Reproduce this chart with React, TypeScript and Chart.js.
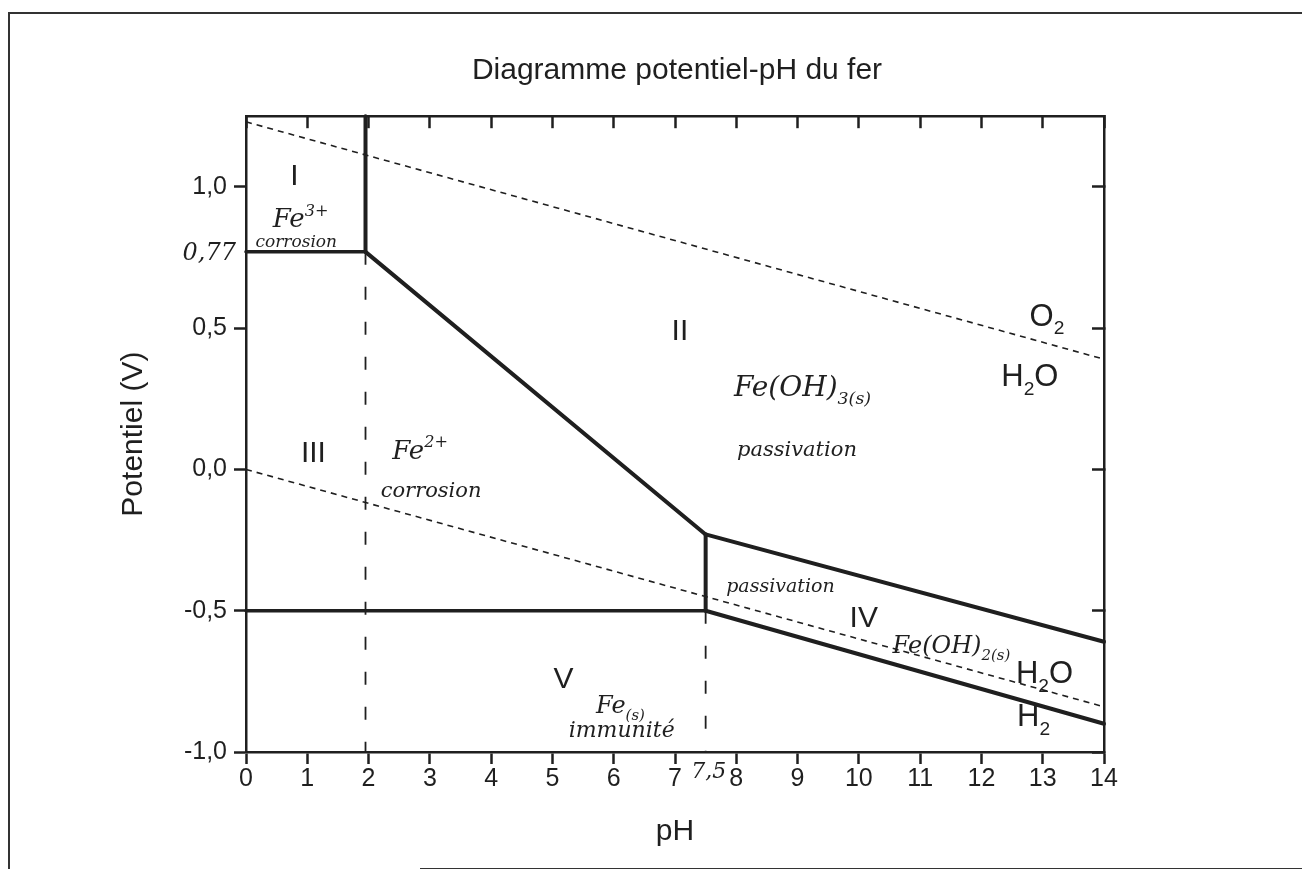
import React, { useEffect, useRef } from 'react';
import { Chart, registerables } from 'chart.js';

Chart.register(...registerables);

// Axes
const pHTicks = [0, 1, 2, 3, 4, 5, 6, 7, 8, 9, 10, 11, 12, 13, 14];
const potentialTicks = [-1, -0.5, 0, 0.5, 1];
const pHMin = 0;
const pHMax = 14;
const potentialMin = -1;
const potentialMax = 1.25;

// Boundaries between the iron species (pH, E in V)
const fe3Fe2PH = [0, 1.95];
const fe3Fe2E = [0.77, 0.77];
const fe3FeOH3PH = [1.95, 1.95];
const fe3FeOH3E = [0.77, 1.25];
const fe2FeOH3PH = [1.95, 7.5];
const fe2FeOH3E = [0.77, -0.23];
const fe2FeOH2PH = [7.5, 7.5];
const fe2FeOH2E = [-0.23, -0.5];
const fe2FePH = [0, 7.5];
const fe2FeE = [-0.5, -0.5];
const feOH3FeOH2PH = [7.5, 14];
const feOH3FeOH2E = [-0.23, -0.61];
const feOH2FePH = [7.5, 14];
const feOH2FeE = [-0.5, -0.9];

// Water stability limits
const o2H2oPH = [0, 14];
const o2H2oE = [1.23, 0.39];
const h2oH2PH = [0, 14];
const h2oH2E = [0, -0.84];

// Vertical guides at pH 2 and pH 7,5
const guideAcidPH = [1.95, 1.95];
const guideAcidE = [0.77, -1];
const guideBasePH = [7.5, 7.5];
const guideBaseE = [-0.5, -1];

// Domain numbers
const regionNames = ['I', 'II', 'III', 'IV', 'V'];
const regionPH = [0.79, 7.08, 1.1, 10.08, 5.18];
const regionE = [1.043, 0.497, 0.064, -0.52, -0.736];

// Water couple labels
const waterLabels = [
  [['O', ''], ['2', 'sub']],
  [['H', ''], ['2', 'sub'], ['O', '']],
  [['H', ''], ['2', 'sub'], ['O', '']],
  [['H', ''], ['2', 'sub']],
];
const waterPH = [13.07, 12.79, 13.03, 12.85];
const waterE = [0.548, 0.333, -0.716, -0.87];

// Species notes
const noteTexts = [
  [['0,77', '']],
  [['Fe', ''], ['3+', 'sup']],
  [['corrosion', '']],
  [['Fe', ''], ['2+', 'sup']],
  [['corrosion', '']],
  [['Fe(OH)', ''], ['3(s)', 'sub']],
  [['passivation', '']],
  [['passivation', '']],
  [['Fe(OH)', ''], ['2(s)', 'sub']],
  [['Fe', ''], ['(s)', 'sub']],
  [['immunité', '']],
  [['7,5', '']],
];
const notePH = [-0.6, 0.89, 0.82, 2.84, 3.02, 9.08, 8.99, 8.72, 11.51, 6.11, 6.13, 7.55];
const noteE = [0.77, 0.89, 0.81, 0.07, -0.07, 0.294, 0.074, -0.41, -0.62, -0.833, -0.918, -1.064];
const noteSize = [24, 26, 17, 26, 21, 28, 21, 19, 24, 24, 22, 22];

const INK = '#1f1f1f';
const SANS = '"Liberation Sans", Arial, Helvetica, sans-serif';
const HAND = '"DejaVu Serif", "Liberation Serif", serif';

const pts = (xs: number[], ys: number[]) => xs.map((x, i) => ({ x, y: ys[i] }));

function drawParts(
  ctx: CanvasRenderingContext2D,
  parts: string[][],
  cx: number,
  cy: number,
  size: number,
  family: string,
  style: string
) {
  const small = size * 0.62;
  const fontFor = (kind: string) => `${style} ${kind ? small : size}px ${family}`;
  let total = 0;
  const widths = parts.map(([t, kind]) => {
    ctx.font = fontFor(kind);
    const w = ctx.measureText(t).width;
    total += w;
    return w;
  });
  let x = cx - total / 2;
  const base = cy + size * 0.36;
  ctx.textAlign = 'left';
  ctx.textBaseline = 'alphabetic';
  parts.forEach(([t, kind], i) => {
    ctx.font = fontFor(kind);
    let y = base;
    if (kind === 'sub') y = base + size * 0.28;
    if (kind === 'sup') y = base - size * 0.45;
    ctx.fillText(t, x, y);
    x += widths[i];
  });
}

const labelsPlugin = {
  id: 'diagramLabels',
  afterDatasetsDraw(chart: any) {
    const { ctx, scales } = chart;
    const xs = scales.x;
    const ys = scales.y;
    ctx.save();
    ctx.fillStyle = INK;
    regionNames.forEach((name, i) => {
      drawParts(ctx, [[name, '']], xs.getPixelForValue(regionPH[i]), ys.getPixelForValue(regionE[i]), 30, SANS, 'normal');
    });
    waterLabels.forEach((parts, i) => {
      drawParts(ctx, parts, xs.getPixelForValue(waterPH[i]), ys.getPixelForValue(waterE[i]), 31, SANS, 'normal');
    });
    noteTexts.forEach((parts, i) => {
      drawParts(ctx, parts, xs.getPixelForValue(notePH[i]), ys.getPixelForValue(noteE[i]), noteSize[i], HAND, 'italic');
    });
    ctx.restore();
  },
};

const solid = (data: { x: number; y: number }[], width: number) => ({
  data,
  showLine: true,
  borderColor: INK,
  borderWidth: width,
  pointRadius: 0,
  borderCapStyle: 'round' as const,
  borderJoinStyle: 'miter' as const,
  clip: 4,
});

const dashed = (data: { x: number; y: number }[], width: number, dash: number[]) => ({
  data,
  showLine: true,
  borderColor: INK,
  borderWidth: width,
  borderDash: dash,
  pointRadius: 0,
  borderCapStyle: 'butt' as const,
  clip: 4,
});

export default function App() {
  const canvasRef = useRef<HTMLCanvasElement | null>(null);

  useEffect(() => {
    document.body.style.overflow = 'hidden';
    const canvas = canvasRef.current;
    if (!canvas) return;

    const tickFont = { family: SANS, size: 25 };
    const axisTitleFont = { family: SANS, size: 30 };

    const chart = new Chart(canvas, {
      type: 'scatter',
      data: {
        datasets: [
          dashed(pts(o2H2oPH, o2H2oE), 1.6, [6, 5]),
          dashed(pts(h2oH2PH, h2oH2E), 1.6, [6, 5]),
          dashed(pts(guideAcidPH, guideAcidE), 1.8, [13, 22]),
          dashed(pts(guideBasePH, guideBaseE), 1.8, [13, 22]),
          solid(pts(fe3Fe2PH, fe3Fe2E), 3.5),
          solid(pts(fe3FeOH3PH, fe3FeOH3E), 4),
          solid(pts(fe2FeOH3PH, fe2FeOH3E), 4),
          solid(pts(fe2FeOH2PH, fe2FeOH2E), 4),
          solid(pts(fe2FePH, fe2FeE), 3.5),
          solid(pts(feOH3FeOH2PH, feOH3FeOH2E), 4),
          solid(pts(feOH2FePH, feOH2FeE), 4),
        ],
      },
      options: {
        animation: false,
        responsive: true,
        maintainAspectRatio: false,
        layout: { padding: { left: 107.6, right: 63.6, top: 45, bottom: 19.6 } },
        plugins: {
          legend: { display: false },
          tooltip: { enabled: false },
          title: {
            display: true,
            text: 'Diagramme potentiel-pH du fer',
            color: INK,
            font: { family: SANS, size: 30, weight: 'normal' },
            padding: 0,
          },
        },
        scales: {
          x: {
            type: 'linear',
            position: 'bottom',
            min: pHMin,
            max: pHMax,
            afterBuildTicks: (s: any) => {
              s.ticks = pHTicks.map((v) => ({ value: v }));
            },
            afterFit: (s: any) => {
              s.height = 97.4;
            },
            grid: { drawOnChartArea: false, drawTicks: true, tickLength: 12, tickWidth: 2.5, tickColor: INK },
            border: { display: true, width: 2.5, color: INK },
            ticks: { color: INK, font: tickFont, padding: 0, maxRotation: 0, autoSkip: false, callback: (v: any) => String(v) },
            title: { display: true, text: 'pH', color: INK, font: axisTitleFont, padding: 0 },
          },
          x2: {
            type: 'linear',
            position: 'top',
            min: pHMin,
            max: pHMax,
            afterBuildTicks: (s: any) => {
              s.ticks = pHTicks.map((v) => ({ value: v }));
            },
            afterFit: (s: any) => {
              s.height = 27.2;
            },
            grid: { drawOnChartArea: false, drawTicks: true, tickLength: -12, tickWidth: 2.5, tickColor: INK },
            border: { display: true, width: 2.5, color: INK },
            ticks: { display: false },
          },
          y: {
            type: 'linear',
            position: 'left',
            min: potentialMin,
            max: potentialMax,
            afterBuildTicks: (s: any) => {
              s.ticks = potentialTicks.map((v) => ({ value: v }));
            },
            afterFit: (s: any) => {
              s.width = 130.4;
            },
            grid: { drawOnChartArea: false, drawTicks: true, tickLength: 12, tickWidth: 2.5, tickColor: INK },
            border: { display: true, width: 2.5, color: INK },
            ticks: {
              color: INK,
              font: tickFont,
              padding: 7,
              callback: (v: any) => Number(v).toFixed(1).replace('.', ','),
            },
            title: { display: true, text: 'Potentiel (V)', color: INK, font: axisTitleFont, padding: 0 },
          },
          y2: {
            type: 'linear',
            position: 'right',
            min: potentialMin,
            max: potentialMax,
            afterBuildTicks: (s: any) => {
              s.ticks = potentialTicks.map((v) => ({ value: v }));
            },
            afterFit: (s: any) => {
              s.width = 134.4;
            },
            grid: { drawOnChartArea: false, drawTicks: true, tickLength: -12, tickWidth: 2.5, tickColor: INK },
            border: { display: true, width: 2.5, color: INK },
            ticks: { display: false },
          },
        },
      },
      plugins: [labelsPlugin],
    });

    return () => {
      chart.destroy();
    };
  }, []);

  return (
    <div style={{ position: 'relative', width: 1294, height: 861, background: '#fff' }}>
      <canvas ref={canvasRef} />
      <div style={{ position: 'absolute', left: 0, top: 4, width: 2, height: 880, background: '#333' }} />
      <div style={{ position: 'absolute', left: 0, top: 4, width: 1310, height: 2, background: '#333' }} />
      <div style={{ position: 'absolute', left: 412, top: 860, width: 900, height: 2, background: '#333' }} />
    </div>
  );
}
